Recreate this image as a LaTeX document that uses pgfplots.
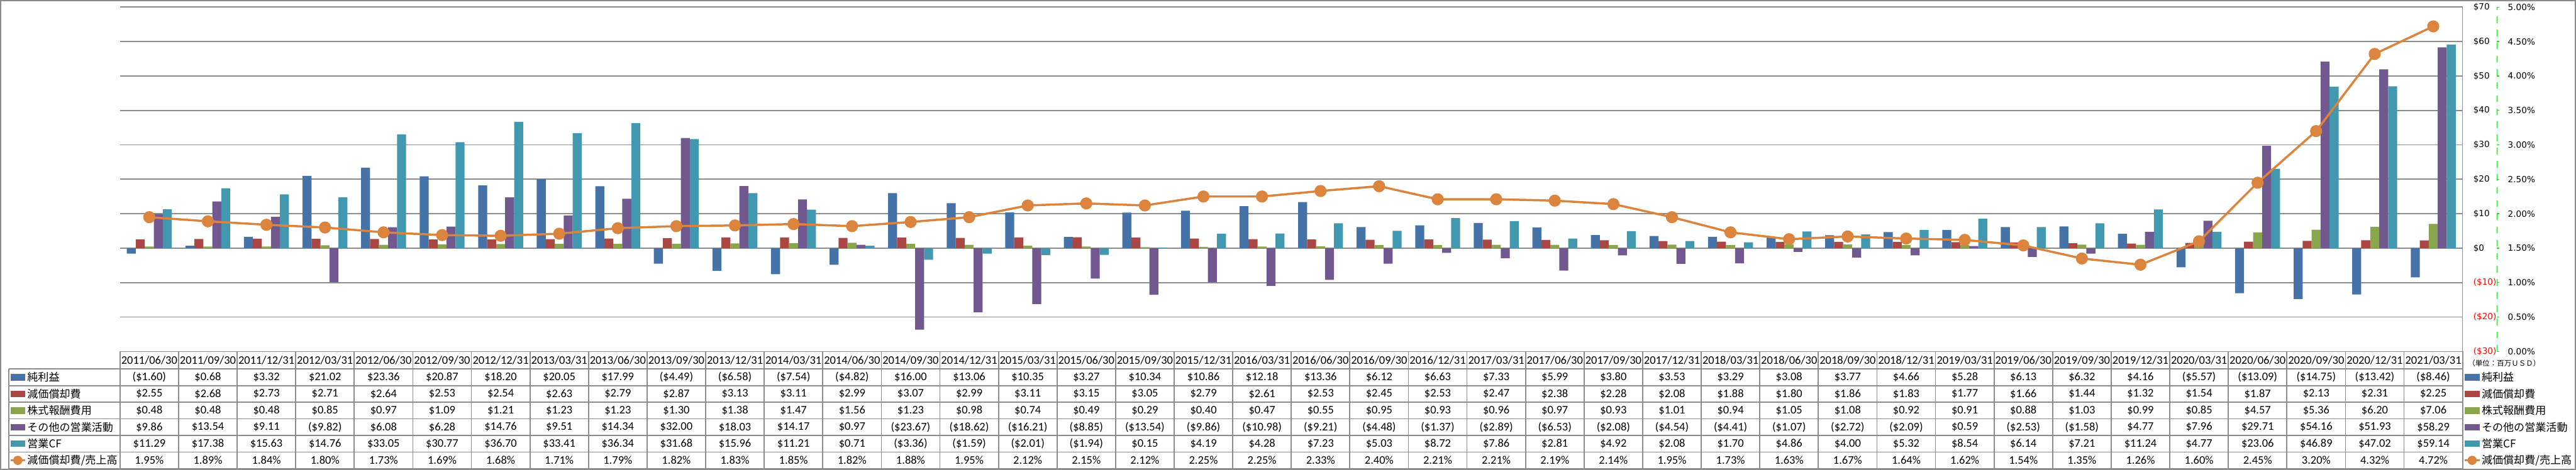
\documentclass[border=0pt]{standalone}
\usepackage{fontspec}
\setmainfont{Carlito}
\newfontfamily\jpfont{Noto Sans CJK JP}
\newfontfamily\axfont{DejaVu Sans}
\usepackage{pgfplots}
\usepackage{pgfplotstable}
\pgfplotsset{compat=1.18}

\definecolor{cNI}{HTML}{4572A7}
\definecolor{cDA}{HTML}{AA4643}
\definecolor{cSBC}{HTML}{89A54E}
\definecolor{cOTH}{HTML}{71588F}
\definecolor{cCF}{HTML}{4198AF}
\definecolor{cRAT}{HTML}{DB843D}
\definecolor{cGrid}{HTML}{8C8C8C}
\definecolor{cAx2}{HTML}{22DD22}

% quarterly figures, million USD (ratio in %)
\pgfplotstableread{
idx date ni da sbc oth cf ratio
1 2011/06/30 -1.60 2.55 0.48 9.86 11.29 1.95
2 2011/09/30 0.68 2.68 0.48 13.54 17.38 1.89
3 2011/12/31 3.32 2.73 0.48 9.11 15.63 1.84
4 2012/03/31 21.02 2.71 0.85 -9.82 14.76 1.80
5 2012/06/30 23.36 2.64 0.97 6.08 33.05 1.73
6 2012/09/30 20.87 2.53 1.09 6.28 30.77 1.69
7 2012/12/31 18.20 2.54 1.21 14.76 36.70 1.68
8 2013/03/31 20.05 2.63 1.23 9.51 33.41 1.71
9 2013/06/30 17.99 2.79 1.23 14.34 36.34 1.79
10 2013/09/30 -4.49 2.87 1.30 32.00 31.68 1.82
11 2013/12/31 -6.58 3.13 1.38 18.03 15.96 1.83
12 2014/03/31 -7.54 3.11 1.47 14.17 11.21 1.85
13 2014/06/30 -4.82 2.99 1.56 0.97 0.71 1.82
14 2014/09/30 16.00 3.07 1.23 -23.67 -3.36 1.88
15 2014/12/31 13.06 2.99 0.98 -18.62 -1.59 1.95
16 2015/03/31 10.35 3.11 0.74 -16.21 -2.01 2.12
17 2015/06/30 3.27 3.15 0.49 -8.85 -1.94 2.15
18 2015/09/30 10.34 3.05 0.29 -13.54 0.15 2.12
19 2015/12/31 10.86 2.79 0.40 -9.86 4.19 2.25
20 2016/03/31 12.18 2.61 0.47 -10.98 4.28 2.25
21 2016/06/30 13.36 2.53 0.55 -9.21 7.23 2.33
22 2016/09/30 6.12 2.45 0.95 -4.48 5.03 2.40
23 2016/12/31 6.63 2.53 0.93 -1.37 8.72 2.21
24 2017/03/31 7.33 2.47 0.96 -2.89 7.86 2.21
25 2017/06/30 5.99 2.38 0.97 -6.53 2.81 2.19
26 2017/09/30 3.80 2.28 0.93 -2.08 4.92 2.14
27 2017/12/31 3.53 2.08 1.01 -4.54 2.08 1.95
28 2018/03/31 3.29 1.88 0.94 -4.41 1.70 1.73
29 2018/06/30 3.08 1.80 1.05 -1.07 4.86 1.63
30 2018/09/30 3.77 1.86 1.08 -2.72 4.00 1.67
31 2018/12/31 4.66 1.83 0.92 -2.09 5.32 1.64
32 2019/03/31 5.28 1.77 0.91 0.59 8.54 1.62
33 2019/06/30 6.13 1.66 0.88 -2.53 6.14 1.54
34 2019/09/30 6.32 1.44 1.03 -1.58 7.21 1.35
35 2019/12/31 4.16 1.32 0.99 4.77 11.24 1.26
36 2020/03/31 -5.57 1.54 0.85 7.96 4.77 1.60
37 2020/06/30 -13.09 1.87 4.57 29.71 23.06 2.45
38 2020/09/30 -14.75 2.13 5.36 54.16 46.89 3.20
39 2020/12/31 -13.42 2.31 6.20 51.93 47.02 4.32
40 2021/03/31 -8.46 2.25 7.06 58.29 59.14 4.72
}\data

\def\stripminus-#1\relax{#1}
\newcommand\usd[1]{\ifdim#1pt<0pt (\$\expandafter\stripminus#1\relax)\else\$#1\fi}
\newcommand\tabtxt{\fontsize{5.3}{6}\selectfont}
\newcommand\jptxt{\jpfont\fontsize{4.9}{6}\selectfont}

\def\W{1068.75}
\def\cw{26.71875}
\def\L{-50.75}
\def\rh{7.5833}

\begin{document}
\begin{tikzpicture}[x=1pt,y=1pt]
\useasboundingbox (-54.75,-54) rectangle (1120.5,160.5);
\draw[cGrid, line width=0.5pt] (-54.5,-53.75) rectangle (1120.25,160.25);

\begin{axis}[
  at={(0,0)}, anchor=south west,
  width=1068.75pt, height=157.25pt, scale only axis,
  xmin=0.5, xmax=40.5, ymin=-30, ymax=70,
  hide x axis, axis y line*=right,
  y axis line style={draw=cGrid, line width=0.5pt},
  ytick={-30,-20,...,70},
  yticklabels={{\color{red}(\$30)},{\color{red}(\$20)},{\color{red}(\$10)},\$0,\$10,\$20,\$30,\$40,\$50,\$60,\$70},
  yticklabel style={font=\axfont\fontsize{3.9}{4.5}\selectfont, anchor=west, inner sep=0pt, xshift=4.75pt},
  major tick length=0pt,
  ymajorgrids, grid style={draw=cGrid, line width=0.5pt},
  ybar=0pt, bar width=4.1pt,
]
\addplot[fill=cNI, draw=none] table[x=idx, y=ni] {\data};
\addplot[fill=cDA, draw=none] table[x=idx, y=da] {\data};
\addplot[fill=cSBC, draw=none] table[x=idx, y=sbc] {\data};
\addplot[fill=cOTH, draw=none] table[x=idx, y=oth] {\data};
\addplot[fill=cCF, draw=none] table[x=idx, y=cf] {\data};
\end{axis}

\begin{axis}[
  at={(0,0)}, anchor=south west,
  width=1068.75pt, height=157.25pt, scale only axis,
  xmin=0.5, xmax=40.5, ymin=0, ymax=5,
  hide x axis, axis y line*=right,
  y axis line style={draw=cAx2, dashed, line width=0.4pt, xshift=15.75pt},
  ytick={0,0.5,...,5},
  ytick style={draw=cAx2, line width=0.4pt, xshift=15.75pt},
  tick align=outside, major tick length=1pt,
  yticklabel={\pgfmathprintnumber[fixed,fixed zerofill,precision=2,assume math mode=true]{\tick}\%},
  yticklabel style={font=\axfont\fontsize{3.9}{4.5}\selectfont, anchor=west, inner sep=0pt, xshift=19.5pt},
]
\addplot[color=cRAT, line width=1pt, mark=*, mark size=2.25pt, mark options={fill=cRAT, draw=cRAT}] table[x=idx, y=ratio] {\data};
\end{axis}

% data table under the chart
\begin{scope}[cGrid, line width=0.5pt]
\draw (0,0) -- (\W,0);
\foreach \k in {0,...,40} \draw ({\k*\cw},0) -- ({\k*\cw},-53.5);
\draw (\L,-8) -- (\L,-53.5);
\foreach \r in {0,...,6} \draw (\L,{-8-\r*\rh}) -- (\W,{-8-\r*\rh});
\end{scope}

\foreach \i in {0,...,39}{
  \pgfmathsetmacro\cx{(\i+0.5)*\cw}
  \pgfplotstablegetelem{\i}{date}\of\data
  \node[font=\tabtxt, inner sep=0pt] at (\cx,-4) {\pgfplotsretval};
  \pgfplotstablegetelem{\i}{ni}\of\data
  \node[font=\tabtxt, inner sep=0pt] at (\cx,{-8-0.5*\rh}) {\usd{\pgfplotsretval}};
  \pgfplotstablegetelem{\i}{da}\of\data
  \node[font=\tabtxt, inner sep=0pt] at (\cx,{-8-1.5*\rh}) {\usd{\pgfplotsretval}};
  \pgfplotstablegetelem{\i}{sbc}\of\data
  \node[font=\tabtxt, inner sep=0pt] at (\cx,{-8-2.5*\rh}) {\usd{\pgfplotsretval}};
  \pgfplotstablegetelem{\i}{oth}\of\data
  \node[font=\tabtxt, inner sep=0pt] at (\cx,{-8-3.5*\rh}) {\usd{\pgfplotsretval}};
  \pgfplotstablegetelem{\i}{cf}\of\data
  \node[font=\tabtxt, inner sep=0pt] at (\cx,{-8-4.5*\rh}) {\usd{\pgfplotsretval}};
  \pgfplotstablegetelem{\i}{ratio}\of\data
  \node[font=\tabtxt, inner sep=0pt] at (\cx,{-8-5.5*\rh}) {\pgfplotsretval\%};
}

% row keys: left in the table, right as legend
\foreach \x/\t in {-50/-42.5, 1069.75/1077.25}{
  \foreach \c/\lab [count=\n] in {cNI/純利益, cDA/減価償却費, cSBC/株式報酬費用, cOTH/その他の営業活動, cCF/営業CF}{
    \pgfmathsetmacro\yy{-8-(\n-0.5)*\rh}
    \fill[\c] (\x,\yy-1.5) rectangle (\x+6.75,\yy+1.5);
    \node[font=\jptxt, anchor=west, inner sep=0pt] at (\t,\yy) {\lab};
  }
  \pgfmathsetmacro\yy{-8-5.5*\rh}
  \draw[cRAT, line width=1pt] (\x,\yy) -- (\x+6.75,\yy);
  \fill[cRAT] (\x+3.375,\yy) circle (2.1pt);
  \node[font=\jptxt, anchor=west, inner sep=0pt] at (\t,\yy) {減価償却費/売上高};
}

\node[font=\jpfont\fontsize{3.3}{3.8}\selectfont, inner sep=0pt] at (1087.75,-5.25) {（単位：百万ＵＳＤ）};
\end{tikzpicture}
\end{document}
